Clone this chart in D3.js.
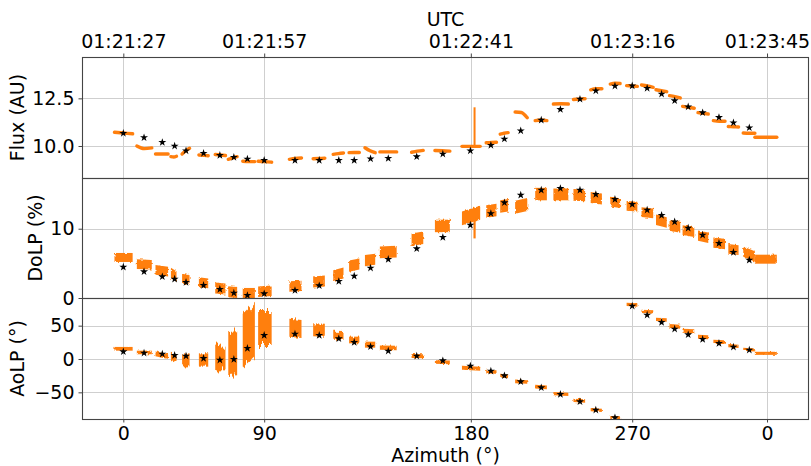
<!DOCTYPE html>
<html>
<head>
<meta charset="utf-8">
<script src="https://cdn.jsdelivr.net/npm/d3@7"></script>
<style>
  html, body { margin: 0; padding: 0; background: #fff; }
  svg { display: block; font-family: "DejaVu Sans", sans-serif; }
</style>
</head>
<body>
<svg id="chart" width="811" height="466"></svg>
<script>
// ---- time axis (seconds after 01:21:27 UTC) ----
const tickTimes = [0, 30.2, 74.5, 109.1, 138.0];
const utcLabels = ["01:21:27", "01:21:57", "01:22:41", "01:23:16", "01:23:45"];
const azLabels  = ["0", "90", "180", "270", "0"];

// ---- acquisition segments: start / end time (s) ----
const segStart = [-1.9, 2.9, 6.9, 10.2, 12.6, 16.2, 19.7, 22.5, 25.6, 28.9, 35.6, 40.7, 45.0, 48.4, 51.8, 55.0, 61.8, 66.8, 72.6,
  77.8, 80.8, 84.0, 88.3, 92.2, 96.5, 100.2, 104.4, 107.9, 111.1, 114.2, 117.1, 119.9, 123.2, 126.5, 129.7, 132.9, 135.4];
const segEnd   = [2.0, 6.1, 9.6, 11.4, 14.2, 18.2, 21.9, 24.4, 28.2, 31.8, 38.2, 43.2, 47.2, 50.6, 54.0, 58.6, 64.3, 70.0, 76.5,
  80.0, 82.5, 86.6, 90.8, 95.4, 99.0, 102.6, 106.5, 110.2, 113.6, 116.5, 119.4, 122.4, 125.4, 129.0, 131.9, 135.4, 140.1];

// ---- measured flux (AU): value at start, middle and end of each segment ----
const fluxStart = [10.72, 10.0, 9.58, 9.44, 9.58, 9.53, 9.55, 9.30, 9.20, 9.20, 9.30, 9.33, 9.56, 9.65, 9.91, 9.69, 9.67, 9.76, 9.98,
  10.17, 10.62, 11.78, 11.33, 12.20, 12.44, 12.95, 13.25, 13.17, 13.20, 12.95, 12.64, 12.08, 11.75, 11.33, 11.02, 10.68, 10.46];
const fluxMid   = [10.68, 9.86, 9.58, 9.42, 9.75, 9.51, 9.53, 9.37, 9.18, 9.18, 9.34, 9.34, 9.60, 9.66, 9.75, 9.69, 9.73, 9.75, 9.98,
  10.19, 10.67, 11.76, 11.36, 12.22, 12.46, 13.00, 13.30, 13.15, 13.15, 12.90, 12.59, 12.03, 11.71, 11.30, 11.01, 10.67, 10.46];
const fluxEnd   = [10.64, 9.90, 9.58, 9.46, 9.88, 9.49, 9.50, 9.44, 9.18, 9.15, 9.37, 9.36, 9.63, 9.66, 9.65, 9.69, 9.77, 9.73, 9.98,
  10.20, 10.70, 11.48, 11.33, 12.20, 12.48, 13.00, 13.28, 13.13, 13.08, 12.85, 12.52, 11.98, 11.68, 11.30, 11.00, 10.67, 10.46];

// ---- measured DoLP (%): centre at start / end and half spread ----
const dolpStart = [5.85, 4.9, 4.05, 3.6, 2.8, 2.3, 1.45, 0.9, 0.7, 0.9, 1.65, 2.3, 3.2, 4.6, 5.4, 6.6, 8.4, 10.4, 11.5,
  12.5, 13.2, 13.1, 15.0, 14.95, 14.9, 14.5, 13.9, 13.3, 12.4, 11.3, 10.5, 9.8, 9.0, 8.0, 7.1, 6.7, 5.6];
const dolpEnd   = [5.85, 4.8, 3.8, 3.1, 2.6, 2.1, 1.3, 0.8, 0.7, 1.05, 1.75, 2.45, 3.6, 4.9, 5.6, 6.7, 8.7, 10.4, 12.3,
  12.7, 13.4, 13.5, 15.0, 14.95, 14.8, 14.3, 13.7, 13.2, 12.2, 10.9, 10.2, 9.5, 8.7, 7.8, 6.9, 6.0, 5.6];
const dolpHalf  = [0.65, 0.7, 0.7, 0.75, 0.7, 0.7, 0.8, 0.8, 0.75, 0.75, 0.75, 0.8, 0.8, 0.8, 0.8, 0.85, 0.9, 0.9, 1.0,
  0.9, 0.9, 0.95, 0.9, 0.85, 0.85, 0.8, 0.7, 0.7, 0.7, 0.75, 0.8, 0.7, 0.75, 0.75, 0.7, 0.75, 0.65];

// ---- measured AoLP (deg): centre at start / end and half spread ----
const aolpStart = [15.3, 9.8, 7.8, 4.0, -2.0, -1.5, 1.5, 7.5, 26.0, 46.5, 47.0, 43.0, 35.0, 28.5, 21.5, 17.0, 4.5, -4.5, -13.0,
  -19.0, -25.0, -33.5, -41.5, -52.0, -62.0, -76.0, -87.5, 82.0, 71.5, 59.5, 49.5, 42.5, 33.5, 26.5, 20.0, 14.5, 8.5];
const aolpEnd   = [15.3, 9.8, 3.5, 1.0, -2.0, -1.5, 1.5, 8.5, 44.0, 46.5, 45.0, 42.5, 34.5, 28.5, 21.5, 16.5, 4.0, -5.0, -14.5,
  -19.5, -26.0, -34.5, -42.5, -53.0, -63.0, -77.0, -88.5, 81.0, 70.5, 58.5, 48.5, 41.5, 32.5, 25.5, 19.0, 13.5, 8.5];
const aolpHalf  = [2.8, 2.7, 3.5, 5.5, 9.0, 10.0, 18.5, 33.0, 39.0, 25.5, 13.5, 9.0, 6.0, 5.0, 4.5, 3.3, 3.0, 2.7, 3.0,
  2.7, 2.7, 2.7, 2.7, 2.5, 2.5, 2.5, 2.5, 2.5, 2.5, 2.5, 3.0, 3.0, 3.0, 2.5, 2.5, 2.2, 2.3];

// ---- transient near 01:22:42 ----
const spikeTime = 75.3;
const fluxSpike = [9.98, 12.03];
const dolpSpike = [11.6, 8.6];

// ---- model / reference points (stars) ----
const starTimes = [0, 4.44, 8.36, 11.0, 13.44, 17.2, 20.7, 23.7, 26.6, 30.2, 36.8, 42.0, 46.2, 49.5, 53.0, 56.8, 62.9, 68.5,
  74.4, 78.8, 81.7, 85.2, 89.6, 93.7, 97.9, 101.3, 105.4, 109.1, 112.3, 115.4, 118.2, 121.1, 124.2, 127.7, 130.8, 134.2];
const fluxStars = [10.67, 10.44, 10.19, 10.0, 9.75, 9.62, 9.51, 9.41, 9.32, 9.25, 9.25, 9.25, 9.25, 9.25, 9.33, 9.35, 9.44, 9.58,
  9.75, 10.04, 10.37, 10.8, 11.36, 11.92, 12.46, 12.9, 13.15, 13.16, 13.03, 12.73, 12.38, 12.06, 11.75, 11.5, 11.22, 10.96];
const dolpStars = [4.47, 3.8, 3.08, 2.74, 2.26, 1.83, 1.25, 0.72, 0.38, 0.63, 1.1, 1.78, 2.4, 3.17, 4.33, 5.58, 7.12, 8.75,
  10.53, 12.2, 13.76, 14.86, 15.58, 15.82, 15.58, 14.96, 14.24, 13.52, 12.7, 11.93, 11.0, 10.1, 9.09, 7.89, 6.59, 5.48];
const aolpStars = [11, 9, 7.5, 5.5, 4.5, 1, -1.5, -0.5, 16, 35.5, 37.5, 35.5, 30.5, 25, 18.5, 12, 4.5, -2.5,
  -10.5, -18, -25, -34, -43, -53, -64, -76.5, -88, 79.5, 66, 55, 45, 36.5, 29.5, 23.5, 18, 13.5];

// ---- y tick values ----
const fluxTicks = [10, 12.5];
const dolpTicks = [0, 10];
const aolpTicks = [-50, 0, 50];

// ================= drawing =================
const ORANGE = "#ff7f0e";
const FONT = 19;
const left = 82, right = 809;

const svg = d3.select("#chart");
const defs = svg.append("defs");

// texture filters for the noisy measurement bands
function jitterFilter(id, fx, fy, scale, seed, verticalOnly) {
  const f = defs.append("filter").attr("id", id)
    .attr("x", "-5%").attr("y", "-20%").attr("width", "110%").attr("height", "140%");
  f.append("feTurbulence").attr("type", "fractalNoise")
    .attr("baseFrequency", `${fx} ${fy}`).attr("numOctaves", 1).attr("seed", seed).attr("result", "noise");
  let src = "noise";
  if (verticalOnly) {
    f.append("feColorMatrix").attr("in", "noise").attr("type", "matrix")
      .attr("values", "0 0 0 0 0.5  0 1 0 0 0  0 0 1 0 0  0 0 0 0 1").attr("result", "vnoise");
    src = "vnoise";
  }
  f.append("feDisplacementMap").attr("in", "SourceGraphic").attr("in2", src)
    .attr("scale", scale).attr("xChannelSelector", "R").attr("yChannelSelector", "G");
}
jitterFilter("fuzzLine", 0.4, 0.4, 1.6, 4, false);
jitterFilter("fuzzBlob", 0.4, 0.4, 3, 7, false);
jitterFilter("streakMid", 0.6, 0.05, 8, 11, true);
jitterFilter("streakBig", 0.5, 0.03, 18, 5, true);

const x = d3.scaleLinear().domain([-8.86, 147.0]).range([left, right]);

const panels = [
  { id: "flux", top: 57,  bottom: 178, domain: [8.32, 14.67], ticks: fluxTicks, fmt: d3.format(".1f"), label: "Flux (AU)", labelX: 23.5 },
  { id: "dolp", top: 178, bottom: 298, domain: [0, 17.32],    ticks: dolpTicks, fmt: d3.format("d"),   label: "DoLP (%)",  labelX: 41.5 },
  { id: "aolp", top: 298, bottom: 419, domain: [-90, 91.5],   ticks: aolpTicks, fmt: d3.format("d"),   label: "AoLP (°)",  labelX: 24 }
];
panels.forEach(p => { p.y = d3.scaleLinear().domain(p.domain).range([p.bottom, p.top]); });

const segIdx = d3.range(segStart.length);
const star = d3.symbol().type(d3.symbolStar).size(20);

function styleAxis(g) {
  g.attr("font-family", "DejaVu Sans, sans-serif").attr("font-size", FONT);
  g.select(".domain").remove();
  g.selectAll(".tick line").attr("stroke", "#444").attr("stroke-width", 1);
  g.selectAll(".tick text").attr("fill", "#000");
}

panels.forEach(p => {
  const y = p.y;
  const clipId = "clip-" + p.id;
  defs.append("clipPath").attr("id", clipId)
    .append("rect").attr("x", left).attr("y", p.top).attr("width", right - left).attr("height", p.bottom - p.top);

  // grid
  const grid = svg.append("g").attr("stroke", "#cfcfcf").attr("stroke-width", 1);
  grid.selectAll("line.v").data(tickTimes).join("line")
    .attr("x1", d => Math.round(x(d)) + 0.5).attr("x2", d => Math.round(x(d)) + 0.5)
    .attr("y1", p.top).attr("y2", p.bottom);
  grid.selectAll("line.h").data(p.ticks).join("line")
    .attr("x1", left).attr("x2", right)
    .attr("y1", d => Math.round(y(d)) + 0.5).attr("y2", d => Math.round(y(d)) + 0.5);

  const plot = svg.append("g").attr("clip-path", `url(#${clipId})`);

  if (p.id === "flux") {
    const line = d3.line().x(d => x(d[0])).y(d => y(d[1])).curve(d3.curveMonotoneX);
    const g = plot.append("g").attr("filter", "url(#fuzzLine)");
    g.selectAll("path").data(segIdx).join("path")
      .attr("d", i => line([[segStart[i], fluxStart[i]], [(segStart[i] + segEnd[i]) / 2, fluxMid[i]], [segEnd[i], fluxEnd[i]]]))
      .attr("fill", "none").attr("stroke", ORANGE).attr("stroke-width", 3.4).attr("stroke-linecap", "round");
    g.append("line")
      .attr("x1", x(spikeTime)).attr("x2", x(spikeTime))
      .attr("y1", y(fluxSpike[0])).attr("y2", y(fluxSpike[1]))
      .attr("stroke", ORANGE).attr("stroke-width", 2);
    plot.selectAll("path.star").data(starTimes).join("path").attr("class", "star")
      .attr("transform", (d, i) => `translate(${x(d)},${y(fluxStars[i])})`).attr("d", star).attr("fill", "#000");
  } else {
    const c0 = p.id === "dolp" ? dolpStart : aolpStart;
    const c1 = p.id === "dolp" ? dolpEnd : aolpEnd;
    const hw = p.id === "dolp" ? dolpHalf : aolpHalf;
    const area = d3.area().x(d => x(d[0])).y0(d => y(d[1] - d[2])).y1(d => y(d[1] + d[2]));
    const bandPath = i => area([[segStart[i], c0[i], hw[i]], [segEnd[i], c1[i], hw[i]]]);
    const groups = p.id === "dolp"
      ? [{ f: "fuzzBlob", sel: () => true }]
      : [{ f: "fuzzBlob",  sel: i => hw[i] < 5 },
         { f: "streakMid", sel: i => hw[i] >= 5 && hw[i] < 15 },
         { f: "streakBig", sel: i => hw[i] >= 15 }];
    groups.forEach(gr => {
      plot.append("g").attr("filter", `url(#${gr.f})`)
        .selectAll("path").data(segIdx.filter(gr.sel)).join("path")
        .attr("d", bandPath).attr("fill", ORANGE);
    });
    if (p.id === "dolp") {
      plot.append("line")
        .attr("x1", x(spikeTime)).attr("x2", x(spikeTime))
        .attr("y1", y(dolpSpike[0])).attr("y2", y(dolpSpike[1]))
        .attr("stroke", ORANGE).attr("stroke-width", 2.2);
    }
    const vals = p.id === "dolp" ? dolpStars : aolpStars;
    plot.selectAll("path.star").data(starTimes).join("path").attr("class", "star")
      .attr("transform", (d, i) => `translate(${x(d)},${y(vals[i])})`).attr("d", star).attr("fill", "#000");
  }

  // y axis
  const ya = svg.append("g").attr("transform", `translate(${left},0)`)
    .call(d3.axisLeft(y).tickValues(p.ticks).tickFormat(p.fmt).tickSize(3.5).tickPadding(4));
  styleAxis(ya);

  // y label
  svg.append("text")
    .attr("transform", `translate(${p.labelX},${(p.top + p.bottom) / 2}) rotate(-90)`)
    .attr("text-anchor", "middle").attr("font-size", FONT).attr("fill", "#000")
    .text(p.label);

  // frame
  svg.append("rect").attr("x", left + 0.5).attr("y", p.top + 0.5)
    .attr("width", right - left - 1).attr("height", p.bottom - p.top)
    .attr("fill", "none").attr("stroke", "#444").attr("stroke-width", 1.1);
});

// bottom azimuth axis
const xb = svg.append("g").attr("transform", "translate(0,419)")
  .call(d3.axisBottom(x).tickValues(tickTimes).tickFormat((d, i) => azLabels[i]).tickSize(3.5).tickPadding(4.5));
styleAxis(xb);

// top UTC axis
const xt = svg.append("g").attr("transform", "translate(0,57)")
  .call(d3.axisTop(x).tickValues(tickTimes).tickFormat((d, i) => utcLabels[i]).tickSize(3.5).tickPadding(6));
styleAxis(xt);

svg.append("text").attr("x", (left + right) / 2).attr("y", 461.5)
  .attr("text-anchor", "middle").attr("font-size", FONT).attr("fill", "#000").text("Azimuth (°)");
svg.append("text").attr("x", (left + right) / 2).attr("y", 26)
  .attr("text-anchor", "middle").attr("font-size", FONT).attr("fill", "#000").text("UTC");
</script>
</body>
</html>
